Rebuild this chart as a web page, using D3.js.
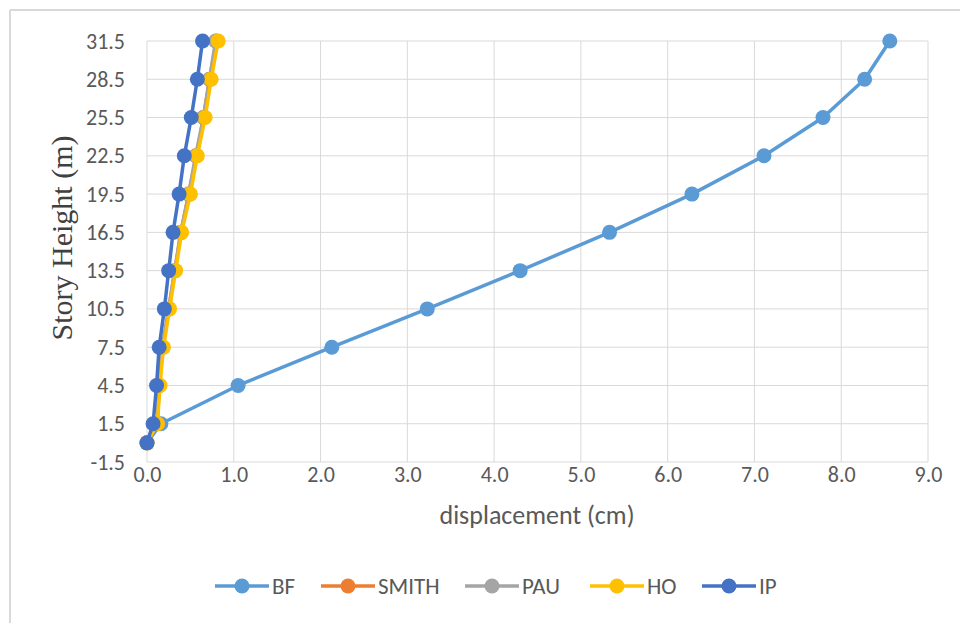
<!DOCTYPE html>
<html>
<head>
<meta charset="utf-8">
<script src="https://cdn.jsdelivr.net/npm/d3@7"></script>
<style>
  html, body { margin: 0; padding: 0; background: #fff; }
  svg { display: block; }
</style>
</head>
<body>
<svg id="chart" width="960" height="623"></svg>
<script>
const heights = [0, 1.5, 4.5, 7.5, 10.5, 13.5, 16.5, 19.5, 22.5, 25.5, 28.5, 31.5];
const seriesNames = ["BF", "SMITH", "PAU", "HO", "IP"];
const seriesColors = ["#5B9BD5", "#ED7D31", "#A5A5A5", "#FFC000", "#4472C4"];
const bf    = [0, 0.16, 1.05, 2.13, 3.23, 4.30, 5.33, 6.28, 7.11, 7.79, 8.27, 8.56];
const smith = [0, 0.12, 0.14, 0.18, 0.25, 0.32, 0.39, 0.48, 0.57, 0.65, 0.72, 0.80];
const pau   = [0, 0.12, 0.14, 0.18, 0.25, 0.32, 0.39, 0.48, 0.56, 0.65, 0.72, 0.79];
const ho    = [0, 0.12, 0.15, 0.19, 0.26, 0.33, 0.40, 0.50, 0.58, 0.67, 0.74, 0.82];
const ip    = [0, 0.07, 0.11, 0.14, 0.20, 0.25, 0.30, 0.37, 0.43, 0.51, 0.58, 0.64];
const seriesValues = [bf, smith, pau, ho, ip];
const xTicks = [0, 1, 2, 3, 4, 5, 6, 7, 8, 9];
const yTicks = [-1.5, 1.5, 4.5, 7.5, 10.5, 13.5, 16.5, 19.5, 22.5, 25.5, 28.5, 31.5];

(function () {
const svg = d3.select("#chart");
const pLeft = 147, pRight = 928, pTop = 41, pBottom = 462;
const x = d3.scaleLinear().domain([0, 9]).range([pLeft, pRight]);
const y = d3.scaleLinear().domain([-1.5, 31.5]).range([pBottom, pTop]);
const tickFont = "Carlito, 'Liberation Sans Narrow', 'Liberation Sans', sans-serif";

// outer frame lines (top & left)
svg.append("line").attr("x1", 10).attr("x2", 960).attr("y1", 10).attr("y2", 10)
  .attr("stroke", "#d9d9d9").attr("stroke-width", 2);
svg.append("line").attr("x1", 10).attr("x2", 10).attr("y1", 10).attr("y2", 623)
  .attr("stroke", "#d9d9d9").attr("stroke-width", 2);

// grid
const grid = svg.append("g");
grid.selectAll("line.v").data(xTicks).join("line").attr("class", "v")
  .attr("x1", d => x(d)).attr("x2", d => x(d)).attr("y1", pTop).attr("y2", pBottom)
  .attr("stroke", "#d9d9d9").attr("stroke-width", 1);
grid.selectAll("line.h").data(yTicks).join("line").attr("class", "h")
  .attr("x1", pLeft).attr("x2", pRight).attr("y1", d => y(d)).attr("y2", d => y(d))
  .attr("stroke", "#d9d9d9").attr("stroke-width", 1);

// axes
const xAxis = svg.append("g").attr("transform", `translate(0,${pBottom})`)
  .call(d3.axisBottom(x).tickValues(xTicks).tickFormat(d3.format(".1f")).tickSize(0).tickPadding(4));
const yAxis = svg.append("g").attr("transform", `translate(${pLeft},0)`)
  .call(d3.axisLeft(y).tickValues(yTicks).tickFormat(d => d.toFixed(1)).tickSize(0).tickPadding(22));
[xAxis, yAxis].forEach(a => {
  a.select(".domain").remove();
  a.selectAll("text").attr("fill", "#595959").style("font-family", tickFont).style("font-size", "22px");
});

// axis titles
svg.append("text").attr("x", 537).attr("y", 524)
  .attr("text-anchor", "middle").attr("fill", "#595959")
  .style("font-family", tickFont).style("font-size", "26px").text("displacement (cm)");
svg.append("text").attr("transform", `translate(72,238) rotate(-90)`)
  .attr("text-anchor", "middle").attr("fill", "#404040")
  .style("font-family", "'Liberation Serif', 'Times New Roman', serif").style("font-size", "30px")
  .text("Story Height (m)");

// series
const line = d3.line().x(d => x(d[0])).y(d => y(d[1]));
seriesNames.forEach((name, i) => {
  const pts = seriesValues[i].map((v, j) => [v, heights[j]]);
  const g = svg.append("g");
  g.append("path").datum(pts).attr("d", line).attr("fill", "none")
    .attr("stroke", seriesColors[i]).attr("stroke-width", 3.5).attr("stroke-linejoin", "round");
  g.selectAll("circle").data(pts).join("circle")
    .attr("cx", d => x(d[0])).attr("cy", d => y(d[1])).attr("r", 7.5)
    .attr("fill", seriesColors[i]);
});

// legend
const legendX = [215, 321, 465, 590, 702];
const legend = svg.append("g");
seriesNames.forEach((name, i) => {
  const lx = legendX[i], ly = 586;
  legend.append("line").attr("x1", lx).attr("x2", lx + 54).attr("y1", ly).attr("y2", ly)
    .attr("stroke", seriesColors[i]).attr("stroke-width", 3.5);
  legend.append("circle").attr("cx", lx + 27).attr("cy", ly).attr("r", 7.5).attr("fill", seriesColors[i]);
  legend.append("text").attr("x", lx + 57).attr("y", ly + 8).attr("fill", "#595959")
    .style("font-family", tickFont).style("font-size", "23px").text(name);
});
})();
</script>
</body>
</html>
